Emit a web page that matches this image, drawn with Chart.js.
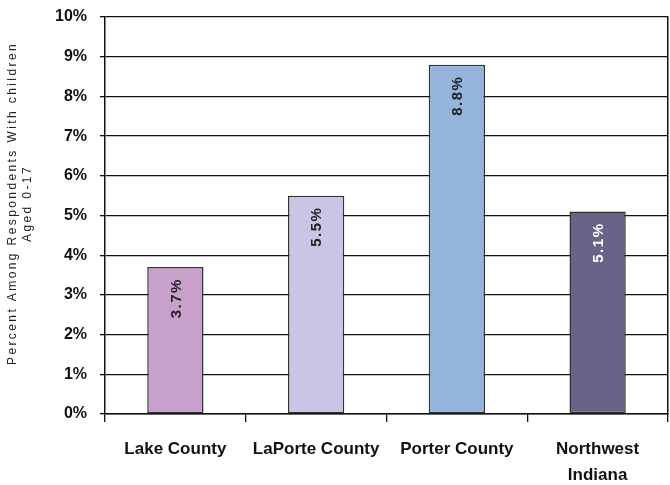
<!DOCTYPE html>
<html>
<head>
<meta charset="utf-8">
<script src="https://cdn.jsdelivr.net/npm/chart.js@4"></script>
<style>
  html, body { margin: 0; padding: 0; background: #fff; }
  #wrap { width: 670px; height: 485px; }
</style>
</head>
<body>
<div id="wrap"><canvas id="myChart" width="670" height="485"></canvas></div>
<script>
const categories = ['Lake County', 'LaPorte County', 'Porter County', ['Northwest', 'Indiana']];
const percents = [3.7, 5.5, 8.8, 5.1];
const barColors = ['#c8a0cc', '#c8c6e4', '#94b4de', '#686488'];
const labelColors = ['#222222', '#222222', '#222222', '#ffffff'];
const yTitle = ['Percent Among Respondents With children', 'Aged 0-17'];

const sans = "'Liberation Sans', Arial, sans-serif";

// values written rotated inside the top of each bar
const barLabels = {
    id: 'barLabels',
    afterDatasetsDraw(chart) {
        const ctx = chart.ctx;
        const meta = chart.getDatasetMeta(0);
        meta.data.forEach((bar, i) => {
            ctx.save();
            ctx.font = 'bold 15px ' + sans;
            ctx.letterSpacing = '1.5px';
            ctx.fillStyle = labelColors[i];
            ctx.translate(bar.x + 1, bar.y + 11);
            ctx.rotate(-Math.PI / 2);
            ctx.textAlign = 'right';
            ctx.textBaseline = 'middle';
            ctx.fillText(percents[i].toFixed(1) + '%', 0, 0);
            ctx.restore();
        });
    }
};

// two-line rotated y axis title, spaced out like the original
const yAxisTitle = {
    id: 'yAxisTitle',
    afterDraw(chart) {
        const ctx = chart.ctx;
        const area = chart.chartArea;
        const cy = (area.top + area.bottom) / 2 - 12;
        ctx.save();
        ctx.font = '12px ' + sans;
        ctx.letterSpacing = '2.4px';
        ctx.fillStyle = '#222';
        ctx.textAlign = 'center';
        ctx.textBaseline = 'middle';
        yTitle.forEach((line, i) => {
            ctx.save();
            ctx.translate(13 + i * 15, cy);
            ctx.rotate(-Math.PI / 2);
            ctx.fillText(line, 0, 0);
            ctx.restore();
        });
        ctx.restore();
    }
};

const ctx = document.getElementById('myChart').getContext('2d');
const chart = new Chart(ctx, {
    type: 'bar',
    data: {
        labels: categories,
        datasets: [{
            data: percents,
            backgroundColor: barColors,
            borderColor: '#333333',
            borderWidth: 1.5,
            borderSkipped: false,
            barPercentage: 0.4,
            categoryPercentage: 1.0
        }]
    },
    options: {
        responsive: false,
        animation: false,
        layout: { padding: { top: 0, right: 1, left: 0, bottom: 0 } },
        plugins: {
            legend: { display: false },
            tooltip: { enabled: false }
        },
        scales: {
            x: {
                offset: true,
                grid: {
                    offset: true,
                    drawOnChartArea: false,
                    drawTicks: true,
                    tickLength: 8,
                    color: '#111',
                    lineWidth: 1.3
                },
                border: { color: '#111', width: 1.5 },
                ticks: {
                    color: '#111',
                    padding: 15,
                    maxRotation: 0,
                    autoSkip: false,
                    font: { family: sans, size: 17, weight: 'bold', lineHeight: 1.5 }
                },
                afterFit(scale) { scale.height = 71; }
            },
            y: {
                min: 0,
                max: 10,
                ticks: {
                    stepSize: 1,
                    color: '#111',
                    padding: 13,
                    font: { family: sans, size: 16, weight: 'bold' },
                    callback: v => v + '%'
                },
                grid: {
                    color: '#111',
                    lineWidth: 1.3,
                    tickLength: 5
                },
                border: { color: '#111', width: 1.5 },
                afterFit(scale) { scale.width = 105; scale.paddingTop = 17; }
            },
            right: {
                position: 'right',
                min: 0,
                max: 10,
                ticks: { display: false },
                grid: { drawOnChartArea: false, drawTicks: false },
                border: { color: '#111', width: 1.5 },
                afterFit(scale) { scale.width = 1; }
            }
        }
    },
    plugins: [barLabels, yAxisTitle]
});
</script>
</body>
</html>
